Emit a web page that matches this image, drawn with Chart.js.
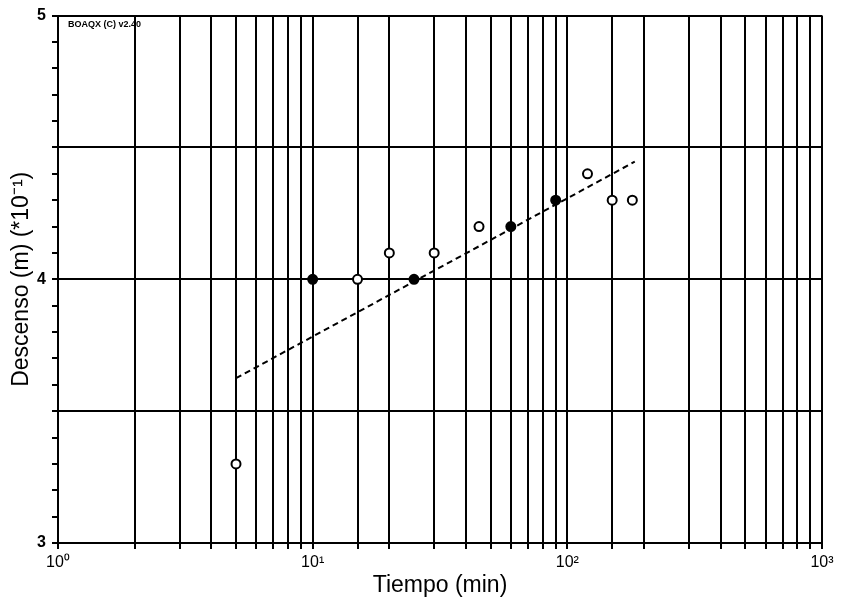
<!DOCTYPE html>
<html>
<head>
<meta charset="utf-8">
<script src="https://cdn.jsdelivr.net/npm/chart.js@4"></script>
<style>
  html, body { margin: 0; padding: 0; background: #fff; }
  #wrap { width: 841px; height: 608px; }
</style>
</head>
<body>
<div id="wrap"><canvas id="grafico" width="841" height="608"></canvas></div>
<script>
// Datos del ensayo de bombeo (descenso en m *10^-1)
const tiempo = [5, 10, 15, 20, 25, 30, 45, 60, 90, 120, 150, 180];
const descenso = [3.3, 4.0, 4.0, 4.1, 4.0, 4.1, 4.2, 4.2, 4.3, 4.4, 4.3, 4.3];
const relleno = [false, true, false, false, true, false, false, true, true, false, false, false];

// Recta de ajuste
const ajusteTiempo = [5, 184];
const ajusteDescenso = [3.625, 4.446];

const sup = { '0': '\u2070', '1': '\u00b9', '2': '\u00b2', '3': '\u00b3' };
const FUENTE = "'Liberation Sans', Arial, sans-serif";

const puntosLlenos = [], puntosVacios = [];
tiempo.forEach(function (t, i) {
    (relleno[i] ? puntosLlenos : puntosVacios).push({ x: t, y: descenso[i] });
});

// Rotulo pequeño en la esquina
const rotulo = {
    id: 'rotulo',
    afterDraw: function (chart) {
        const ctx = chart.ctx, a = chart.chartArea;
        ctx.save();
        ctx.font = "bold 9px " + FUENTE;
        ctx.fillStyle = '#000';
        ctx.textBaseline = 'middle';
        ctx.fillText('BOAQX (C) v2.40', a.left + 10, a.top + 9);
        ctx.restore();
    }
};

new Chart(document.getElementById('grafico'), {
    type: 'scatter',
    data: {
        datasets: [
            {
                label: 'ajuste',
                data: ajusteTiempo.map(function (t, i) { return { x: t, y: ajusteDescenso[i] }; }),
                showLine: true,
                borderColor: '#000',
                borderWidth: 2,
                borderDash: [6, 4],
                pointRadius: 0
            },
            {
                label: 'llenos',
                data: puntosLlenos,
                pointRadius: 4.5,
                pointBorderWidth: 2,
                pointBackgroundColor: '#000',
                pointBorderColor: '#000'
            },
            {
                label: 'vacios',
                data: puntosVacios,
                pointRadius: 4.5,
                pointBorderWidth: 2,
                pointBackgroundColor: '#fff',
                pointBorderColor: '#000'
            }
        ]
    },
    options: {
        responsive: false,
        animation: false,
        layout: { padding: { left: 0, right: 19, top: 11, bottom: 0 } },
        plugins: { legend: { display: false }, tooltip: { enabled: false } },
        scales: {
            x: {
                type: 'logarithmic',
                min: 1,
                max: 1000,
                afterFit: function (s) { s.height = 65; },
                border: { color: '#000', width: 2 },
                grid: { color: '#000', lineWidth: 2, tickLength: 6, tickColor: '#000' },
                ticks: {
                    autoSkip: false,
                    maxRotation: 0,
                    padding: 4,
                    color: '#000',
                    font: { family: FUENTE, size: 16 },
                    callback: function (v) {
                        const e = Math.log10(v);
                        if (Math.abs(e - Math.round(e)) < 1e-9) return '10' + sup[String(Math.round(e))];
                        return '';
                    }
                },
                title: {
                    display: true,
                    text: 'Tiempo (min)',
                    color: '#000',
                    font: { family: FUENTE, size: 23 },
                    padding: { top: 0, bottom: 9 }
                }
            },
            y: {
                min: 3,
                max: 5,
                afterFit: function (s) { s.width = 58; },
                border: { color: '#000', width: 2 },
                grid: {
                    lineWidth: 2,
                    tickLength: 6,
                    tickColor: '#000',
                    color: function (c) {
                        const v = c.tick ? c.tick.value : 0;
                        return Math.abs(v * 2 - Math.round(v * 2)) < 1e-6 ? '#000' : 'rgba(0,0,0,0)';
                    }
                },
                ticks: {
                    stepSize: 0.1,
                    autoSkip: false,
                    padding: 6,
                    color: '#000',
                    font: { family: FUENTE, size: 16, weight: 'bold' },
                    callback: function (v) {
                        return Math.abs(v - Math.round(v)) < 1e-6 ? String(Math.round(v)) : '';
                    }
                },
                title: {
                    display: true,
                    text: 'Descenso (m) (*10\u207b\u00b9)',
                    color: '#000',
                    font: { family: FUENTE, size: 23 },
                    padding: { top: 8, bottom: 0 }
                }
            }
        }
    },
    plugins: [rotulo]
});
</script>
</body>
</html>
